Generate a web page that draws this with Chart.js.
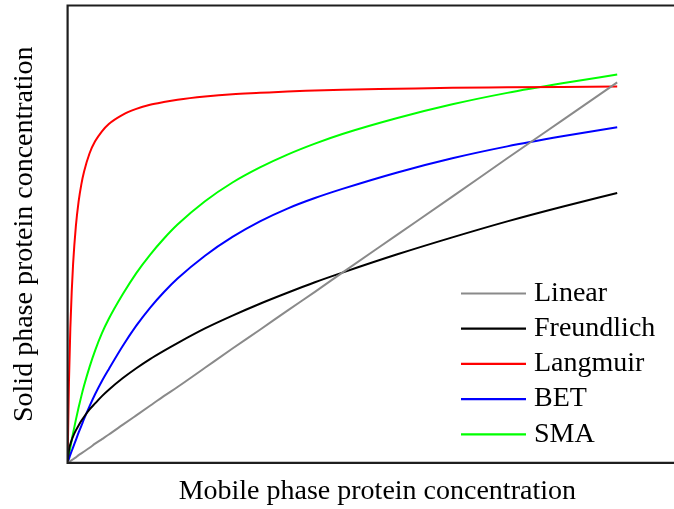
<!DOCTYPE html>
<html lang="en">
<head>
  <meta charset="UTF-8">
  <title>Protein adsorption isotherms</title>
  <script src="https://cdn.jsdelivr.net/npm/chart.js@4.4.1/dist/chart.umd.min.js"></script>
  <style>
    html, body {
      margin: 0;
      padding: 0;
      background: #fff;
      overflow: hidden;
    }
    canvas {
      display: block;
    }
  </style>
</head>
<body>
  <canvas id="isotherms" width="690" height="509"></canvas>

  <script>
    // mobile phase concentration (arbitrary units)
    const concentration = [0, 0.025, 0.05, 0.075, 0.1, 0.15, 0.2, 0.25, 0.3, 0.4, 0.5, 0.625, 0.75, 1, 1.25, 1.5, 1.75, 2, 2.5, 3, 3.5, 4, 4.5, 5, 6, 7, 8, 9, 10];

    // solid phase concentration for each isotherm model
    const linear     = [0, 0.02, 0.04, 0.06, 0.08, 0.12, 0.17, 0.21, 0.25, 0.33, 0.42, 0.52, 0.62, 0.83, 1.04, 1.25, 1.46, 1.66, 2.08, 2.50, 2.91, 3.33, 3.74, 4.16, 4.99, 5.82, 6.66, 7.49, 8.32];
    const freundlich = [0, 0.29, 0.41, 0.50, 0.58, 0.71, 0.82, 0.92, 1.01, 1.17, 1.30, 1.46, 1.60, 1.85, 2.07, 2.27, 2.45, 2.62, 2.94, 3.22, 3.48, 3.72, 3.95, 4.16, 4.56, 4.93, 5.28, 5.60, 5.90];
    const langmuir   = [0, 1.79, 2.95, 3.75, 4.35, 5.17, 5.71, 6.09, 6.37, 6.77, 7.03, 7.25, 7.41, 7.61, 7.74, 7.83, 7.89, 7.94, 8.01, 8.06, 8.09, 8.12, 8.14, 8.16, 8.18, 8.20, 8.21, 8.22, 8.23];
    const bet        = [0, 0.09, 0.18, 0.26, 0.34, 0.50, 0.66, 0.81, 0.96, 1.24, 1.50, 1.79, 2.05, 2.55, 3.00, 3.39, 3.73, 4.03, 4.53, 4.94, 5.28, 5.56, 5.79, 5.99, 6.35, 6.66, 6.92, 7.14, 7.34];
    const sma        = [0, 0.17, 0.335, 0.50, 0.65, 0.94, 1.21, 1.46, 1.69, 2.10, 2.455, 2.835, 3.15, 3.68, 4.15, 4.55, 4.90, 5.21, 5.72, 6.13, 6.46, 6.74, 6.98, 7.19, 7.54, 7.84, 8.09, 8.30, 8.49];

    const labels = ['Linear', 'Freundlich', 'Langmuir', 'BET', 'SMA'];
    const seriesValues = [linear, freundlich, langmuir, bet, sma];
    const colors = ['#8a8a8a', '#000000', '#ff0000', '#0000ff', '#00ff00'];

    const serif = "'Liberation Serif', 'Times New Roman', serif";

    function toPoints(values) {
      return concentration.map((c, i) => ({ x: c, y: values[i] }));
    }

    // box on left, top and bottom; the right side runs off the page
    const framePlugin = {
      id: 'frame',
      afterDatasetsDraw(chart) {
        const { ctx, chartArea } = chart;
        ctx.save();
        ctx.strokeStyle = '#1e1e1e';
        ctx.lineWidth = 2.2;
        ctx.beginPath();
        ctx.moveTo(chart.width, chartArea.top);
        ctx.lineTo(chartArea.left, chartArea.top);
        ctx.lineTo(chartArea.left, chartArea.bottom);
        ctx.lineTo(chart.width, chartArea.bottom);
        ctx.stroke();
        ctx.restore();
      }
    };

    // legend sitting inside the plot, lower right
    const insideLegend = {
      id: 'insideLegend',
      afterDraw(chart) {
        const { ctx } = chart;
        const x0 = 461, x1 = 526, textX = 534;
        const y0 = 293.5, step = 35.2;
        ctx.save();
        ctx.font = `28px ${serif}`;
        ctx.textBaseline = 'middle';
        ctx.textAlign = 'left';
        chart.data.datasets.forEach((ds, i) => {
          const y = y0 + i * step;
          ctx.strokeStyle = ds.borderColor;
          ctx.lineWidth = 2.2;
          ctx.beginPath();
          ctx.moveTo(x0, y);
          ctx.lineTo(x1, y);
          ctx.stroke();
          ctx.fillStyle = '#000';
          ctx.fillText(ds.label, textX, y);
        });
        ctx.restore();
      }
    };

    const ctx = document.getElementById('isotherms').getContext('2d');

    new Chart(ctx, {
      type: 'line',
      data: {
        datasets: labels.map((label, i) => ({
          label: label,
          data: toPoints(seriesValues[i]),
          borderColor: colors[i],
          backgroundColor: colors[i],
          borderWidth: 2,
          pointRadius: 0,
          cubicInterpolationMode: 'monotone',
          fill: false
        }))
      },
      options: {
        responsive: false,
        animation: false,
        layout: {
          padding: { left: 0, top: 5.5, right: 3, bottom: 0.5 }
        },
        plugins: {
          legend: { display: false },
          tooltip: { enabled: false }
        },
        scales: {
          x: {
            type: 'linear',
            min: 0,
            max: 11.27,
            ticks: { display: false },
            grid: { display: false, drawTicks: false },
            border: { display: false },
            title: {
              display: true,
              text: 'Mobile phase protein concentration',
              color: '#000',
              font: { family: serif, size: 28 },
              padding: { top: 12, bottom: 0 }
            }
          },
          y: {
            min: 0,
            max: 10,
            ticks: { display: false },
            grid: { display: false, drawTicks: false },
            border: { display: false },
            title: {
              display: true,
              text: 'Solid phase protein concentration',
              color: '#000',
              font: { family: serif, size: 28 },
              padding: { top: 8, bottom: 26 }
            }
          }
        }
      },
      plugins: [framePlugin, insideLegend]
    });
  </script>
</body>
</html>
